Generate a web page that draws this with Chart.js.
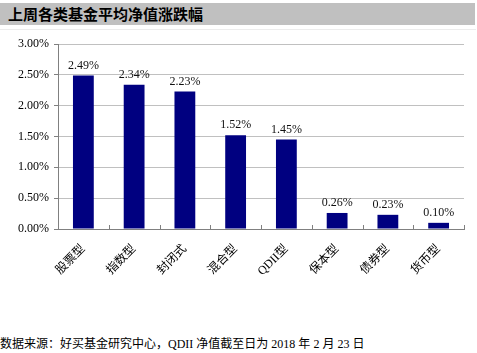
<!DOCTYPE html>
<html>
<head>
<meta charset="utf-8">
<script src="https://cdn.jsdelivr.net/npm/chart.js@4"></script>
<style>
  body { margin: 0; width: 477px; height: 353px; background: #fff; position: relative; overflow: hidden; }
  #title {
    position: absolute; left: 0; top: 3px; width: 475px; height: 22px;
    background: #c0c0c0; font: bold 15px "Noto Sans CJK SC", sans-serif;
    line-height: 22px; padding-left: 8px; box-sizing: border-box; color: #000;
  }
  #frame { position: absolute; left: 0; top: 29px; width: 476px; height: 1px; background: #ececec; }
  #wrap { position: absolute; left: 0; top: 30px; width: 477px; height: 290px; }
  #note {
    position: absolute; left: 0; top: 334px; font: 12px "Liberation Serif", "Noto Sans CJK SC", serif;
    color: #000; white-space: nowrap;
  }
  #note .cn { font-family: "Noto Sans CJK SC", sans-serif; }
</style>
</head>
<body>
<div id="title">上周各类基金平均净值涨跌幅</div>
<div id="frame"></div>
<div id="wrap"><canvas id="chart" width="477" height="290"></canvas></div>
<div id="note"><span class="cn">数据来源：好买基金研究中心，</span>QDII <span class="cn">净值截至日为</span> 2018 <span class="cn">年</span> 2 <span class="cn">月</span> 23 <span class="cn">日</span></div>
<script>
// categories and weekly average NAV change (%)
const categories = ['股票型', '指数型', '封闭式', '混合型', 'QDII型', '保本型', '债券型', '货币型'];
const changes = [2.49, 2.34, 2.23, 1.52, 1.45, 0.26, 0.23, 0.10];
const yTicks = [0, 0.5, 1, 1.5, 2, 2.5, 3];

const serif = '"Liberation Serif", "Noto Sans CJK SC", serif';

// value labels above bars
const barLabels = {
  id: 'barLabels',
  afterDatasetsDraw(chart) {
    const ctx = chart.ctx;
    const meta = chart.getDatasetMeta(0);
    ctx.save();
    ctx.font = '12px ' + serif;
    ctx.fillStyle = '#111';
    ctx.textAlign = 'center';
    ctx.textBaseline = 'bottom';
    meta.data.forEach((bar, i) => {
      ctx.fillText(changes[i].toFixed(2) + '%', bar.x, bar.y - 4);
    });
    ctx.restore();
  }
};

// small inward tick marks on the category axis, between categories
const catTicks = {
  id: 'catTicks',
  afterDraw(chart) {
    const x = chart.scales.x;
    const ctx = chart.ctx;
    ctx.save();
    ctx.strokeStyle = '#808080';
    ctx.lineWidth = 1;
    for (let i = 0; i <= categories.length; i++) {
      const px = Math.round(x.getPixelForValue(i - 0.5)) + 0.5;
      ctx.beginPath();
      ctx.moveTo(px, x.top);
      ctx.lineTo(px, x.top - 4);
      ctx.stroke();
    }
    ctx.restore();
  }
};

new Chart(document.getElementById('chart'), {
  type: 'bar',
  data: {
    labels: categories,
    datasets: [{
      data: changes,
      backgroundColor: '#000080',
      barPercentage: 0.41,
      categoryPercentage: 1
    }]
  },
  options: {
    responsive: false,
    animation: false,
    layout: { padding: { top: 14, right: 13, left: 0, bottom: 0 } },
    plugins: { legend: { display: false }, tooltip: { enabled: false } },
    scales: {
      x: {
        afterFit: s => { s.height = 91; },
        grid: { display: true, drawOnChartArea: false, drawTicks: false },
        border: { color: '#808080' },
        ticks: {
          font: { family: serif, size: 12 },
          color: '#000',
          minRotation: 45, maxRotation: 45,
          padding: 13,
          autoSkip: false
        }
      },
      y: {
        min: 0, max: 3,
        afterFit: s => { s.width = 58; },
        afterBuildTicks: s => { s.ticks = yTicks.map(v => ({ value: v })); },
        border: { color: '#808080' },
        grid: {
          color: '#c0c0c0',
          borderDash: [1, 2],
          tickColor: '#808080',
          tickBorderDash: [],
          tickLength: 4
        },
        ticks: {
          font: { family: serif, size: 12 },
          color: '#000',
          padding: 5,
          callback: v => v.toFixed(2) + '%'
        }
      }
    }
  },
  plugins: [barLabels, catTicks]
});
</script>
</body>
</html>
